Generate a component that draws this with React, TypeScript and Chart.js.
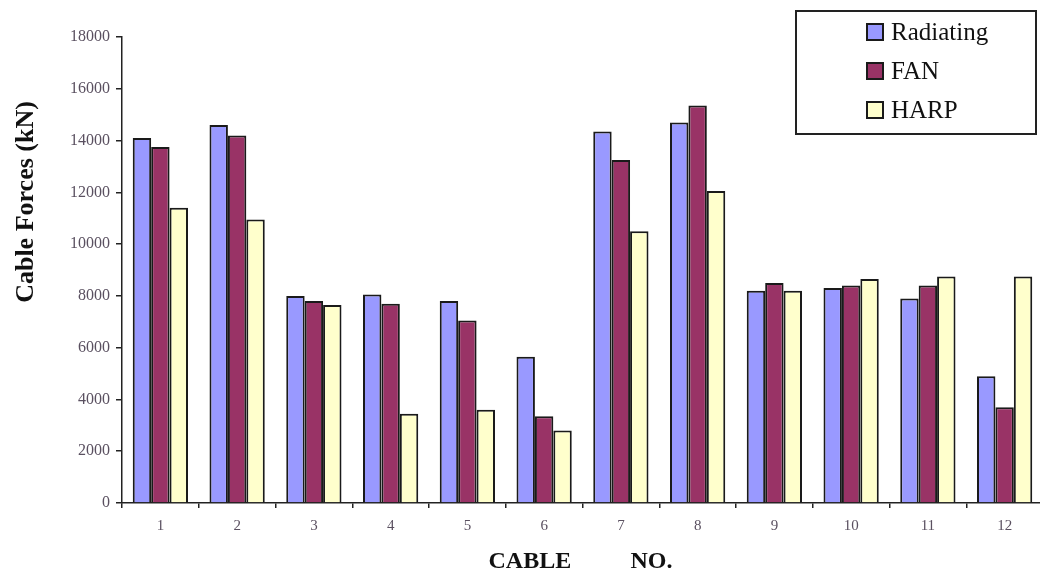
import React, { useEffect, useRef } from "react";
import { Chart, registerables } from "chart.js";

Chart.register(...registerables);

const categories = ["1", "2", "3", "4", "5", "6", "7", "8", "9", "10", "11", "12"];
const radiating = [14100, 14600, 8000, 8050, 7800, 5650, 14350, 14700, 8200, 8300, 7900, 4900];
const fan = [13750, 14200, 7800, 7700, 7050, 3350, 13250, 15350, 8500, 8400, 8400, 3700];
const harp = [11400, 10950, 7650, 3450, 3600, 2800, 10500, 12050, 8200, 8650, 8750, 8750];
const seriesNames = ["Radiating", "FAN", "HARP"];
const seriesColors = ["#9999FF", "#993366", "#FFFFCC"];
const yTitle = "Cable Forces (kN)";
const xTitleLeft = "CABLE";
const xTitleRight = "NO.";

const SERIF = "'Liberation Serif', 'Times New Roman', serif";

const decorPlugin = {
  id: "decor",
  afterDraw(chart: any) {
    const ctx = chart.ctx as CanvasRenderingContext2D;
    const area = chart.chartArea;
    ctx.save();
    // Y title
    ctx.fillStyle = "#111";
    ctx.font = `bold 26px ${SERIF}`;
    ctx.translate(33, (area.top + area.bottom) / 2 - 68);
    ctx.rotate(-Math.PI / 2);
    ctx.textAlign = "center";
    ctx.textBaseline = "alphabetic";
    ctx.fillText(yTitle, 0, 0);
    ctx.restore();

    // X title
    ctx.save();
    ctx.fillStyle = "#111";
    ctx.font = `bold 24px ${SERIF}`;
    ctx.textAlign = "left";
    ctx.textBaseline = "alphabetic";
    const cx = (area.left + area.right) / 2;
    ctx.fillText(xTitleLeft, cx - 94, 568);
    ctx.fillText(xTitleRight, cx + 48, 568);
    ctx.restore();

    // Legend
    ctx.save();
    const bx = 796, by = 11, bw = 240, bh = 123;
    ctx.fillStyle = "#fff";
    ctx.fillRect(bx, by, bw, bh);
    ctx.strokeStyle = "#222";
    ctx.lineWidth = 2;
    ctx.strokeRect(bx, by, bw, bh);
    ctx.font = `25px ${SERIF}`;
    ctx.textBaseline = "middle";
    ctx.textAlign = "left";
    chart.data.datasets.forEach((ds: any, i: number) => {
      const cy = 32 + i * 39;
      ctx.fillStyle = ds.backgroundColor;
      ctx.fillRect(867, cy - 8, 16, 16);
      ctx.lineWidth = 2;
      ctx.strokeStyle = "#1a1a1a";
      ctx.strokeRect(867, cy - 8, 16, 16);
      ctx.fillStyle = "#111";
      ctx.fillText(ds.label, 891, cy + 1);
    });
    ctx.restore();
  },
};

export default function App() {
  const ref = useRef<HTMLCanvasElement | null>(null);
  useEffect(() => {
    if (!ref.current) return;
    const seriesData = [radiating, fan, harp];
    const chart = new Chart(ref.current, {
      type: "bar",
      data: {
        labels: categories,
        datasets: seriesNames.map((name, i) => ({
          label: name,
          data: seriesData[i],
          backgroundColor: seriesColors[i],
          borderColor: "#1a1a1a",
          borderWidth: 2,
          categoryPercentage: 0.72,
          barPercentage: 1,
        })),
      },
      options: {
        animation: false,
        responsive: false,
        devicePixelRatio: 1,
        layout: { padding: { top: 37, right: 7, left: 0, bottom: 0 } },
        plugins: { legend: { display: false }, tooltip: { enabled: false }, title: { display: false } },
        scales: {
          x: {
            afterFit: (s: any) => { s.height = 71; },
            grid: { display: true, drawOnChartArea: false, offset: true, color: "#222", tickLength: 5, lineWidth: 1.5 },
            border: { display: true, color: "#222", width: 1.5 },
            ticks: { color: "#5a5060", font: { family: SERIF, size: 15 }, padding: 9, maxRotation: 0 },
          },
          y: {
            min: 0,
            max: 18000,
            afterFit: (s: any) => { s.width = 122; },
            grid: { display: true, drawOnChartArea: false, color: "#222", tickLength: 6, lineWidth: 1.5 },
            border: { display: true, color: "#222", width: 1.5 },
            ticks: {
              stepSize: 2000,
              color: "#5a5060",
              font: { family: SERIF, size: 16 },
              padding: 6,
              callback: (v: any) => String(v),
            },
          },
        },
      },
      plugins: [decorPlugin],
    });
    return () => chart.destroy();
  }, []);
  return (
    <div style={{ position: "fixed", left: 0, top: 0, width: 1040, height: 574, overflow: "hidden", background: "#fff" }}>
      <canvas ref={ref} width={1050} height={574} style={{ width: 1050, height: 574, display: "block" }} />
    </div>
  );
}
